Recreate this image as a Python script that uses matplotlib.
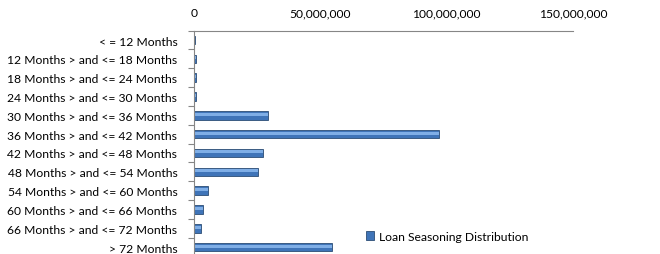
import matplotlib.pyplot as plt
from matplotlib.ticker import FuncFormatter

categories = ['< = 12 Months', '12 Months > and <= 18 Months', '18 Months > and <= 24 Months',
              '24 Months > and <= 30 Months', '30 Months > and <= 36 Months',
              '36 Months > and <= 42 Months', '42 Months > and <= 48 Months',
              '48 Months > and <= 54 Months', '54 Months > and <= 60 Months',
              '60 Months > and <= 66 Months', '66 Months > and <= 72 Months', '> 72 Months']
values = [300000, 800000, 800000, 600000, 29100000, 96900000, 27200000,
          25200000, 5500000, 3500000, 2800000, 54700000]
ticks = [0, 50000000, 100000000, 150000000]

plt.rcParams['font.family'] = ['Lato', 'DejaVu Sans']

fig = plt.figure(figsize=(6.6, 2.55), dpi=100)
ax = fig.add_axes([0.294, -0.01, 0.574, 0.886])

pos = list(range(len(categories)))
ax.barh(pos, values, height=0.45, color='#3F74B8', edgecolor='#2C4D75', linewidth=0.6,
        label='Loan Seasoning Distribution')
# lighter stripe for the glossy look
ax.barh([p - 0.06 for p in pos], values, height=0.16, color='#7FAEE6', linewidth=0)
ax.set_ylim(len(categories) - 0.5, -0.5)
ax.set_xlim(0, 150000000)
ax.set_yticks(pos)
ax.set_yticklabels(categories, fontsize=8.7)
ax.set_yticks([p + 0.5 for p in pos[:-1]] + [-0.5], minor=True)
ax.tick_params(axis='y', which='major', length=0, pad=12)
ax.tick_params(axis='y', which='minor', length=4, color='#868686', width=0.8)
ax.xaxis.tick_top()
ax.set_xticks(ticks)
ax.xaxis.set_major_formatter(FuncFormatter(lambda v, p: f'{int(v):,}'))
ax.tick_params(axis='x', length=0, labelsize=8.7, pad=9)
for s in ['right', 'bottom']:
    ax.spines[s].set_visible(False)
ax.spines['top'].set_color('#868686')
ax.spines['left'].set_color('#868686')

fig.legend(loc='center left', bbox_to_anchor=(0.538, 0.07), frameon=False, fontsize=8.7,
           handlelength=0.7, handleheight=0.7, handletextpad=0.4)

fig.savefig('out.png')
